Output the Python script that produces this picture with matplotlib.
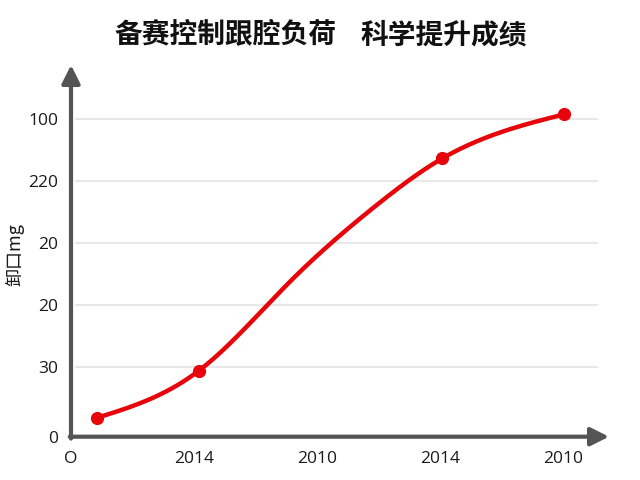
import numpy as np
import matplotlib
matplotlib.use("Agg")
import matplotlib.pyplot as plt

plt.rcParams['font.family'] = ['Noto Sans CJK SC', 'DejaVu Sans']

title_left = "备赛控制跟腔负荷"
title_right = "科学提升成绩"
y_label = "卸口mg"
x_tick_labels = ["O", "2014", "2010", "2014", "2010"]
x_tick_pos = [0, 1, 2, 3, 4]
y_tick_labels = ["0", "30", "20", "20", "220", "100"]
y_tick_pos = [0, 1.12, 2.12, 3.12, 4.12, 5.12]

# marked points
marker_x = [0.214, 1.04, 3.02, 4.01]
marker_y = [0.306, 1.065, 4.49, 5.20]
# points
curve_x = [0.214, 1.04, 1.78, 2.45, 3.02, 4.01]
curve_y = [0.306, 1.065, 2.50, 3.68, 4.49, 5.20]


def natural_spline(xs, ys, n=400):
    x = np.asarray(xs, float)
    y = np.asarray(ys, float)
    k = len(x)
    h = np.diff(x)
    A = np.zeros((k, k))
    b = np.zeros(k)
    A[0, 0] = A[-1, -1] = 1.0
    for i in range(1, k - 1):
        A[i, i - 1] = h[i - 1]
        A[i, i] = 2 * (h[i - 1] + h[i])
        A[i, i + 1] = h[i]
        b[i] = 6 * ((y[i + 1] - y[i]) / h[i] - (y[i] - y[i - 1]) / h[i - 1])
    M = np.linalg.solve(A, b)
    xx = np.linspace(x[0], x[-1], n)
    idx = np.clip(np.searchsorted(x, xx) - 1, 0, k - 2)
    x0, x1 = x[idx], x[idx + 1]
    hh = x1 - x0
    yy = (M[idx] * (x1 - xx) ** 3 / (6 * hh) + M[idx + 1] * (xx - x0) ** 3 / (6 * hh)
          + (y[idx] / hh - M[idx] * hh / 6) * (x1 - xx)
          + (y[idx + 1] / hh - M[idx + 1] * hh / 6) * (xx - x0))
    return xx, yy


fig = plt.figure(figsize=(6.4, 4.8), dpi=100)
fig.patch.set_facecolor('white')
ax = fig.add_axes([71 / 640, 1 - 436.7 / 480, (615 - 71) / 640, (436.7 - 60) / 480])
ax.set_xlim(0, (615 - 71) / 123)
ax.set_ylim(0, (436.7 - 60) / 62)
for s in ax.spines.values():
    s.set_visible(False)

# gridlines
for yp in y_tick_pos[1:]:
    ax.plot([0.03, (598 - 71) / 123], [yp, yp], color='#e8e8e8', lw=1.5, zorder=1,
            solid_capstyle='butt')

axis_color = '#545454'
# x axis with arrow
ax.annotate('', xy=((609 - 71) / 123, 0), xytext=(-0.01, 0),
            arrowprops=dict(arrowstyle='-|>,head_length=1.1,head_width=0.55',
                            color=axis_color, lw=3, shrinkA=0, shrinkB=0),
            annotation_clip=False, zorder=3)
# y axis with arrow
ax.annotate('', xy=(0, (436.7 - 65) / 62), xytext=(0, -0.03),
            arrowprops=dict(arrowstyle='-|>,head_length=1.1,head_width=0.55',
                            color=axis_color, lw=3, shrinkA=0, shrinkB=0),
            annotation_clip=False, zorder=3)

sx, sy = natural_spline(curve_x, curve_y)
ax.plot(sx, sy, color='#e8040b', lw=3.2, solid_capstyle='round', zorder=4)
ax.plot(marker_x, marker_y, 'o', color='#e8040b', ms=8.5, zorder=5)

ax.set_xticks(x_tick_pos)
ax.set_xticklabels(x_tick_labels)
ax.set_yticks(y_tick_pos)
ax.set_yticklabels(y_tick_labels)
ax.tick_params(axis='both', length=0, labelsize=12.5, colors='#1a1a1a')
ax.tick_params(axis='x', pad=10)
ax.tick_params(axis='y', pad=9)
for lab in ax.get_xticklabels() + ax.get_yticklabels():
    lab.set_family(['Open Sans', 'DejaVu Sans'])

fig.text(15 / 640, 1 - 255 / 480, y_label, rotation=90, ha='center', va='center',
         fontsize=13, color='#1a1a1a')
fig.text(337 / 640, 1 - 35 / 480, title_left, ha='right', va='center', fontsize=20,
         fontweight='bold', color='#111111')
fig.text(360 / 640, 1 - 35 / 480, title_right, ha='left', va='center', fontsize=20,
         fontweight='bold', color='#111111')

fig.savefig('out.png', dpi=100, facecolor='white')
